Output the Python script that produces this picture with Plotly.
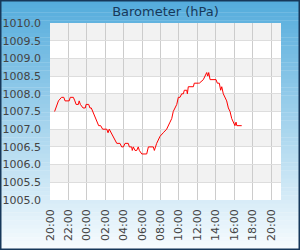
import plotly.graph_objects as go
from datetime import datetime, timedelta

times = ["20:30","20:45","20:55","21:15","21:30","21:38","22:05","22:12","22:32","22:42","22:50",
         "23:05","23:10","23:18","23:35","23:50","23:55","00:12","00:20","00:29","00:38","00:47",
         "00:55","01:04","01:17","01:30","01:43","02:10","02:18","02:26","02:39","02:52","03:03",
         "03:15","03:36","03:47","03:58","04:09","04:30","04:37","04:52","04:56","05:03","05:14",
         "05:25","05:35","05:42","05:58","06:30","06:41","07:13","07:20","07:35","07:46","07:57",
         "08:18","08:40","09:02","09:13","09:23","09:35","09:46","09:56","10:07","10:18","10:29",
         "10:35","10:51","10:55","11:01","11:34","11:40","12:07","12:13","12:39","12:50","13:01",
         "13:08","13:14","13:23","14:02","14:10","14:23","14:32","14:39","14:49","15:00","15:11",
         "15:22","15:33","15:44","15:54","16:05","16:12","16:17","16:49"]
pressure = [1007.5,1007.7,1007.8,1007.9,1007.9,1007.8,1007.8,1007.9,1007.9,1007.8,1007.7,
            1007.7,1007.8,1007.7,1007.6,1007.6,1007.7,1007.7,1007.6,1007.6,1007.5,1007.4,
            1007.3,1007.2,1007.1,1007.1,1007.0,1007.0,1006.9,1007.0,1006.9,1006.8,1006.7,
            1006.6,1006.6,1006.5,1006.5,1006.6,1006.6,1006.5,1006.5,1006.4,1006.5,1006.4,
            1006.4,1006.5,1006.4,1006.3,1006.3,1006.5,1006.5,1006.4,1006.6,1006.7,1006.8,
            1006.9,1007.0,1007.2,1007.3,1007.5,1007.6,1007.7,1007.9,1007.9,1008.0,1008.0,
            1008.1,1008.1,1008.0,1008.2,1008.2,1008.3,1008.3,1008.3,1008.4,1008.5,1008.6,
            1008.5,1008.6,1008.4,1008.4,1008.3,1008.3,1008.1,1008.2,1008.0,1007.9,1007.8,
            1007.6,1007.5,1007.3,1007.2,1007.1,1007.2,1007.1,1007.1]

y_ticks = [1005.0 + 0.5 * i for i in range(11)]
title_text = "Barometer (hPa)"

base = datetime(2024, 1, 1, 20, 0)
xs = []
for t in times:
    h, m = map(int, t.split(":"))
    d = datetime(2024, 1, 1, h, m)
    if d < base:
        d += timedelta(days=1)
    xs.append(d)

W, H = 300, 250
ml, mr, mt, mb = 50, 19, 23, 50
pw, ph = W - ml - mr, H - mt - mb
px0, px1 = -ml / pw, 1 + mr / pw
py0, py1 = -mb / ph, 1 + mt / ph

shapes = []
n = 60
c0 = (84, 172, 220)
c1 = (246, 251, 254)
for i in range(n):
    f = i / (n - 1)
    col = tuple(int(round(c0[k] + (c1[k] - c0[k]) * f)) for k in range(3))
    ya = py1 - (py1 - py0) * i / n
    yb = py1 - (py1 - py0) * (i + 1) / n
    shapes.append(dict(type="rect", xref="paper", yref="paper", x0=px0, x1=px1, y0=yb, y1=ya + 0.002,
                       fillcolor="rgb(%d,%d,%d)" % col, line_width=0, layer="below"))
shapes.append(dict(type="rect", xref="paper", yref="paper", x0=0, x1=1, y0=0, y1=1,
                   fillcolor="white", line_width=0, layer="below"))
for i in range(len(y_ticks) - 1):
    if i % 2 == 1:
        shapes.append(dict(type="rect", xref="paper", yref="y", x0=0, x1=1,
                           y0=y_ticks[i], y1=y_ticks[i + 1],
                           fillcolor="#f2f2f2", line_width=0, layer="below"))
shapes.append(dict(type="rect", xref="paper", yref="paper", x0=px0 + 0.5 / pw, x1=px1 - 0.5 / pw,
                   y0=py0 + 0.5 / ph, y1=py1 - 0.5 / ph,
                   line=dict(color="#17385a", width=2), fillcolor="rgba(0,0,0,0)", layer="above"))

fig = go.Figure()
fig.add_trace(go.Scatter(x=xs, y=pressure, mode="lines",
                         line=dict(color="#ff0000", width=1), hoverinfo="skip"))

fig.update_layout(
    width=W, height=H,
    margin=dict(l=ml, r=mr, t=mt, b=mb, pad=0, autoexpand=False),
    paper_bgcolor="rgba(0,0,0,0)",
    plot_bgcolor="rgba(0,0,0,0)",
    showlegend=False,
    shapes=shapes,
    font=dict(family="DejaVu Sans", size=11, color="#444444"),
    title=dict(text=title_text, x=0.5, xref="paper", y=1 - 11 / H, yref="container",
               xanchor="center", yanchor="middle",
               font=dict(family="DejaVu Sans", size=13, color="#17385a")),
    xaxis=dict(
        range=[base, base + timedelta(hours=25, minutes=5)],
        tick0=base, dtick=2 * 3600 * 1000, tickformat="%H:%M",
        tickangle=-90, showgrid=True, gridcolor="#cccccc", gridwidth=1,
        zeroline=False, showline=False, ticks="", ticklabelstandoff=6,
        tickfont=dict(size=11, color="#444444"), automargin=False,
    ),
    yaxis=dict(
        range=[1005.0, 1010.0], tickvals=y_ticks, ticktext=["%.1f" % v for v in y_ticks],
        showgrid=True, gridcolor="#dddddd", gridwidth=1,
        zeroline=False, showline=False, ticks="", ticklabelstandoff=8,
        tickfont=dict(size=11, color="#444444"), automargin=False,
    ),
)

fig.write_html("out.html")
